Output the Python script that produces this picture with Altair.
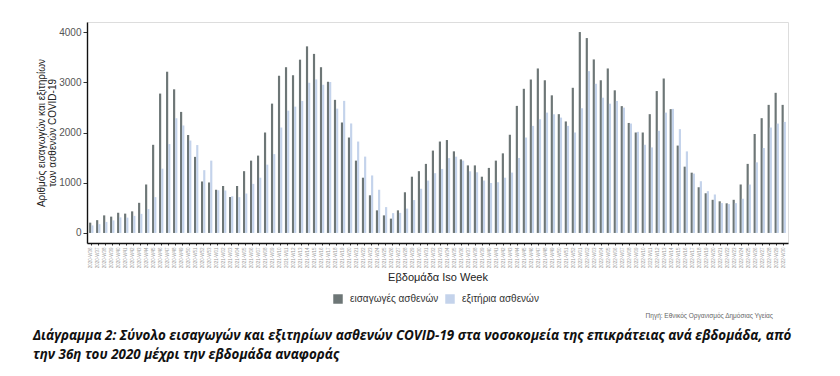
import altair as alt
import pandas as pd

# ---- data ----
weeks = (
    [f"2020-W{w:02d}" for w in range(36, 54)]
    + [f"2021-W{w:02d}" for w in range(1, 53)]
    + [f"2022-W{w:02d}" for w in range(1, 31)]
)

admissions = [
    205, 255, 350, 325, 400, 385, 430, 600, 965, 1755,
    2775, 3210, 2860, 2410, 1950, 1515, 1025, 1005, 860, 935,
    715, 935, 1230, 1440, 1540, 2000, 2575, 3130, 3300, 3140,
    3450, 3715, 3565, 3300, 3010, 2650, 2200, 1900, 1440, 1100,
    750, 450, 350, 285, 450, 810, 1120, 1230, 1375, 1640,
    1820, 1850, 1625, 1465, 1345, 1345, 1120, 1295, 1440, 1585,
    1955, 2530, 2870, 3055, 3275, 3040, 2740, 2365, 2220, 2890,
    4000, 3880, 3455, 3040, 3275, 2840, 2525, 2190, 2000, 2000,
    2365, 2825, 3075, 2465, 1740, 1320, 1200, 910, 790, 660,
    630, 590, 660, 965, 1375, 1970, 2285, 2550, 2790, 2550,
]

discharges = [
    150, 175, 220, 250, 310, 305, 340, 380, 475, 713,
    1280, 1770, 2284, 2140, 1840, 1750, 1250, 1440, 850, 845,
    730, 713, 785, 977, 1100, 1360, 1570, 2099, 2435, 2515,
    2628, 2990, 3057, 2950, 3005, 2475, 2630, 2180, 1820, 1520,
    1145, 860, 515, 395, 400, 485, 655, 880, 1043, 1190,
    1275, 1490, 1519, 1440, 1228, 1208, 1043, 995, 1010, 1100,
    1202, 1493, 1900, 2132, 2264, 2396, 2363, 2297, 2132, 2000,
    2483, 3222, 2970, 2693, 2574, 2628, 2495, 2178, 2013, 1756,
    1703, 2034, 2396, 2470, 2067, 1624, 1182, 1030, 832, 766,
    594, 575, 594, 681, 964, 1406, 1691, 2099, 2178, 2211,
]

series_names = ["εισαγωγές ασθενών", "εξιτήρια ασθενών"]
series_colors = ["#6d7676", "#c4d3eb"]

y_ticks = [0, 1000, 2000, 3000, 4000]
y_title = ["Αριθμός εισαγωγών και εξιτηρίων", "των ασθενών COVID-19"]
x_title = "Εβδομάδα Iso Week"
source_text = "Πηγή: Εθνικός Οργανισμός Δημόσιας Υγείας"
caption_lines = [
    "Διάγραμμα 2: Σύνολο εισαγωγών και εξιτηρίων ασθενών COVID-19 στα νοσοκομεία της επικράτειας ανά εβδομάδα, από",
    "την 36η του 2020 μέχρι την εβδομάδα αναφοράς",
]

rows = []
for i, w in enumerate(weeks):
    rows.append({"week": w, "series": series_names[0], "value": admissions[i]})
    rows.append({"week": w, "series": series_names[1], "value": discharges[i]})
df = pd.DataFrame(rows)

bars = alt.Chart(df).mark_bar().encode(
    x=alt.X(
        "week:N",
        sort=weeks,
        scale=alt.Scale(paddingInner=0.38, paddingOuter=0.3),
        axis=alt.Axis(
            title=x_title,
            labelAngle=-90,
            labelFontSize=4.5,
            labelColor="#9a9a9a",
            labelPadding=2,
            tickSize=2,
            tickColor="#333333",
            domainColor="#111111",
            domainWidth=1.4,
            titleFontSize=11,
            titleFontWeight="normal",
            titleColor="#222222",
            titlePadding=4,
        ),
    ),
    xOffset=alt.XOffset("series:N", sort=series_names),
    y=alt.Y(
        "value:Q",
        stack=None,
        scale=alt.Scale(domain=[-200, 4200], nice=False, zero=False),
        axis=alt.Axis(
            values=y_ticks,
            format="d",
            title=y_title,
            grid=False,
            labelFontSize=10,
            labelColor="#555555",
            tickSize=4,
            tickColor="#333333",
            domainColor="#111111",
            domainWidth=1.4,
            titleFontSize=10,
            titleFontWeight="normal",
            titleColor="#222222",
            titlePadding=1,
            titleLineHeight=11.5,
        ),
    ),
    color=alt.Color(
        "series:N",
        scale=alt.Scale(domain=series_names, range=series_colors),
        legend=alt.Legend(
            orient="none",
            legendX=246,
            legendY=272,
            direction="horizontal",
            title=None,
            symbolType="square",
            symbolSize=90,
            symbolStrokeWidth=0,
            labelFontSize=10,
            labelColor="#333333",
            labelOffset=7,
            columnPadding=6,
            padding=0,
        ),
    ),
)

source = alt.Chart(pd.DataFrame({"t": [source_text]})).mark_text(
    align="right", baseline="middle", fontSize=6.5, color="#666666",
    font="Liberation Sans",
).encode(text="t:N", x=alt.value(686), y=alt.value(294))

caption = alt.Chart(pd.DataFrame({"t": [0]})).mark_text(
    text=caption_lines,
    align="left", baseline="middle", fontSize=13.4, fontWeight="bold",
    fontStyle="italic", font="Open Sans", color="#111111", lineHeight=19,
).encode(x=alt.value(-54), y=alt.value(314))

chart = alt.layer(bars, source, caption).properties(
    width=701,
    height=221,
    autosize=alt.AutoSizeParams(type="none"),
    padding={"left": 79, "top": 14, "right": 44, "bottom": 125},
).configure_view(stroke=None).configure(
    font="Liberation Sans"
)

chart.save("out.html", embed_options={"renderer": "svg", "actions": False})
